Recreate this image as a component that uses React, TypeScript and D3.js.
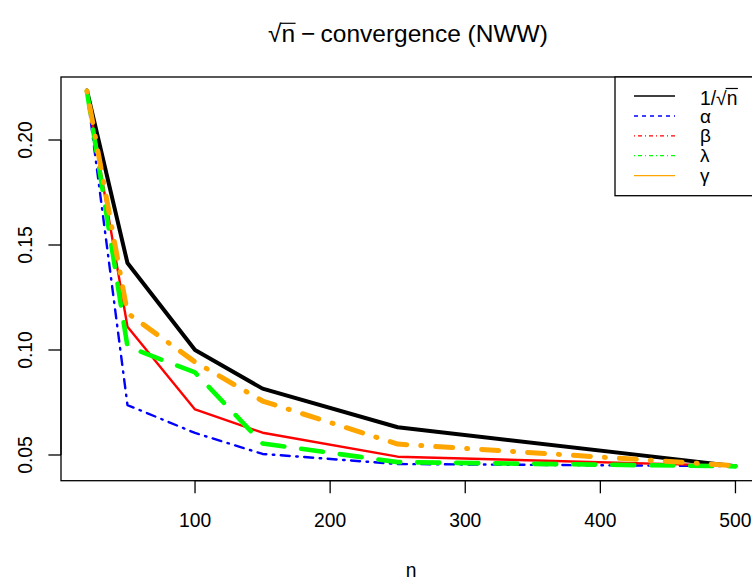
import React, { useEffect, useRef, useState } from "react";
import * as d3 from "d3";

const nValues = [20, 50, 100, 150, 250, 500];
const invSqrt = [0.2236, 0.1414, 0.1, 0.0816, 0.0632, 0.0447];
const alphaVals = [0.223, 0.0738, 0.0605, 0.0505, 0.0457, 0.0447];
const betaVals = [0.2233, 0.1111, 0.0717, 0.0606, 0.0492, 0.0448];
const lambdaVals = [0.2233, 0.1016, 0.0893, 0.0555, 0.0466, 0.0446];
const gammaVals = [0.2233, 0.1176, 0.0943, 0.0757, 0.0552, 0.0449];
const xTicks = [100, 200, 300, 400, 500];
const yTicks = [0.05, 0.1, 0.15, 0.2];
const legendLabels = ["1/√n", "α", "β", "λ", "γ"];
const titleParts = ["√n", "−", "convergence (NWW)"];

const FONT = "'Liberation Sans', Arial, Helvetica, sans-serif";

const W = 752;
const H = 580;
const L = 61, R = 761.4, T = 77, B = 480.7;

const x = d3.scaleLinear().domain([0.8, 519.2]).range([L, R]);
const y = d3.scaleLinear().domain([0.03776, 0.23]).range([B, T]);

type S = { vals: number[]; color: string; width: number; dash?: string };
const series: S[] = [
  { vals: invSqrt, color: "#000000", width: 4 },
  { vals: alphaVals, color: "#0000FF", width: 2.4, dash: "1.5 6.5 9 6.5" },
  { vals: betaVals, color: "#FF0000", width: 2.4 },
  { vals: lambdaVals, color: "#00FF00", width: 4.6, dash: "22 17" },
  { vals: gammaVals, color: "#FFA500", width: 5, dash: "1 14 17 14" },
];

const legendStyles = [
  { color: "#000000", dash: undefined as string | undefined },
  { color: "#0000FF", dash: "4 4" },
  { color: "#FF0000", dash: "1 3 4 3" },
  { color: "#00FF00", dash: "1 3 4 3" },
  { color: "#FFA500", dash: undefined as string | undefined },
];

function OverbarText(props: { x: number; y: number; size: number; text: string; barIndex: number; anchor?: string; barY: number }) {
  const ref = useRef<SVGTextElement>(null);
  const [bar, setBar] = useState<[number, number] | null>(null);
  useEffect(() => {
    const el = ref.current;
    if (!el) return;
    try {
      const s = el.getStartPositionOfChar(props.barIndex).x;
      const e = el.getEndPositionOfChar(props.barIndex).x;
      setBar([s, e]);
    } catch (err) {}
  }, []);
  return (
    <g>
      <text ref={ref} x={props.x} y={props.y} fontSize={props.size} fontFamily={FONT} textAnchor={props.anchor || "start"} fill="#000">
        {props.text}
      </text>
      {bar && <line x1={bar[0] - 1} x2={bar[1] + 0.5} y1={props.barY} y2={props.barY} stroke="#000" strokeWidth={1.2} />}
    </g>
  );
}

export default function App() {
  const line = d3
    .line<number>()
    .x((_, i) => x(nValues[i]))
    .y((d) => y(d));

  const legX = 615;
  const legRows = [96, 116, 135.8, 155.7, 175.7];

  return (
    <svg width={W} height={H} style={{ position: "absolute", left: 0, top: 0, background: "#fff" }}>
      <rect x={0} y={0} width={W} height={H} fill="#fff" />
      {/* title */}
      <OverbarText x={268} y={41.5} size={24.5} text={titleParts[0]} barIndex={1} barY={23.3} />
      <text x={301} y={41.5} fontSize={24.5} fontFamily={FONT}>{titleParts[1]}</text>
      <text x={320.5} y={41.5} fontSize={24.5} fontFamily={FONT}>{titleParts[2]}</text>

      {/* lines */}
      {series.map((s, i) => (
        <path
          key={i}
          d={line(s.vals) || ""}
          fill="none"
          stroke={s.color}
          strokeWidth={s.width}
          strokeDasharray={s.dash}
          strokeLinecap="round"
          strokeLinejoin="round"
        />
      ))}

      {/* box */}
      <rect x={L} y={T} width={R - L} height={B - T} fill="none" stroke="#000" strokeWidth={1.3} />

      {/* x axis */}
      <line x1={x(xTicks[0])} x2={x(xTicks[xTicks.length - 1])} y1={B} y2={B} stroke="#000" strokeWidth={1.3} />
      {xTicks.map((t) => (
        <g key={t}>
          <line x1={x(t)} x2={x(t)} y1={B} y2={B + 12.6} stroke="#000" strokeWidth={1.3} />
          <text x={x(t)} y={527} fontSize={19.3} fontFamily={FONT} textAnchor="middle">
            {t}
          </text>
        </g>
      ))}
      <text x={411} y={576.5} fontSize={19.3} fontFamily={FONT} textAnchor="middle">
        n
      </text>

      {/* y axis */}
      <line x1={L} x2={L} y1={y(yTicks[0])} y2={y(yTicks[yTicks.length - 1])} stroke="#000" strokeWidth={1.3} />
      {yTicks.map((t) => (
        <g key={t}>
          <line x1={L} x2={L - 12.6} y1={y(t)} y2={y(t)} stroke="#000" strokeWidth={1.3} />
          <text
            transform={`translate(31.7,${y(t)}) rotate(-90)`}
            fontSize={19.3}
            fontFamily={FONT}
            textAnchor="middle"
          >
            {t.toFixed(2)}
          </text>
        </g>
      ))}

      {/* legend */}
      <rect x={legX} y={T} width={R - legX} height={195.7 - T} fill="#fff" stroke="#000" strokeWidth={1.3} />
      {legendLabels.map((lab, i) => (
        <g key={lab}>
          <line
            x1={634}
            x2={675}
            y1={legRows[i]}
            y2={legRows[i]}
            stroke={legendStyles[i].color}
            strokeWidth={1.3}
            strokeDasharray={legendStyles[i].dash}
          />
          {i === 0 ? (
            <OverbarText x={700} y={legRows[i] + 9} size={19.3} text={lab} barIndex={3} barY={88.5} />
          ) : (
            <text x={700} y={legRows[i] + 6.5} fontSize={19} fontFamily={FONT}>
              {lab}
            </text>
          )}
        </g>
      ))}
    </svg>
  );
}
